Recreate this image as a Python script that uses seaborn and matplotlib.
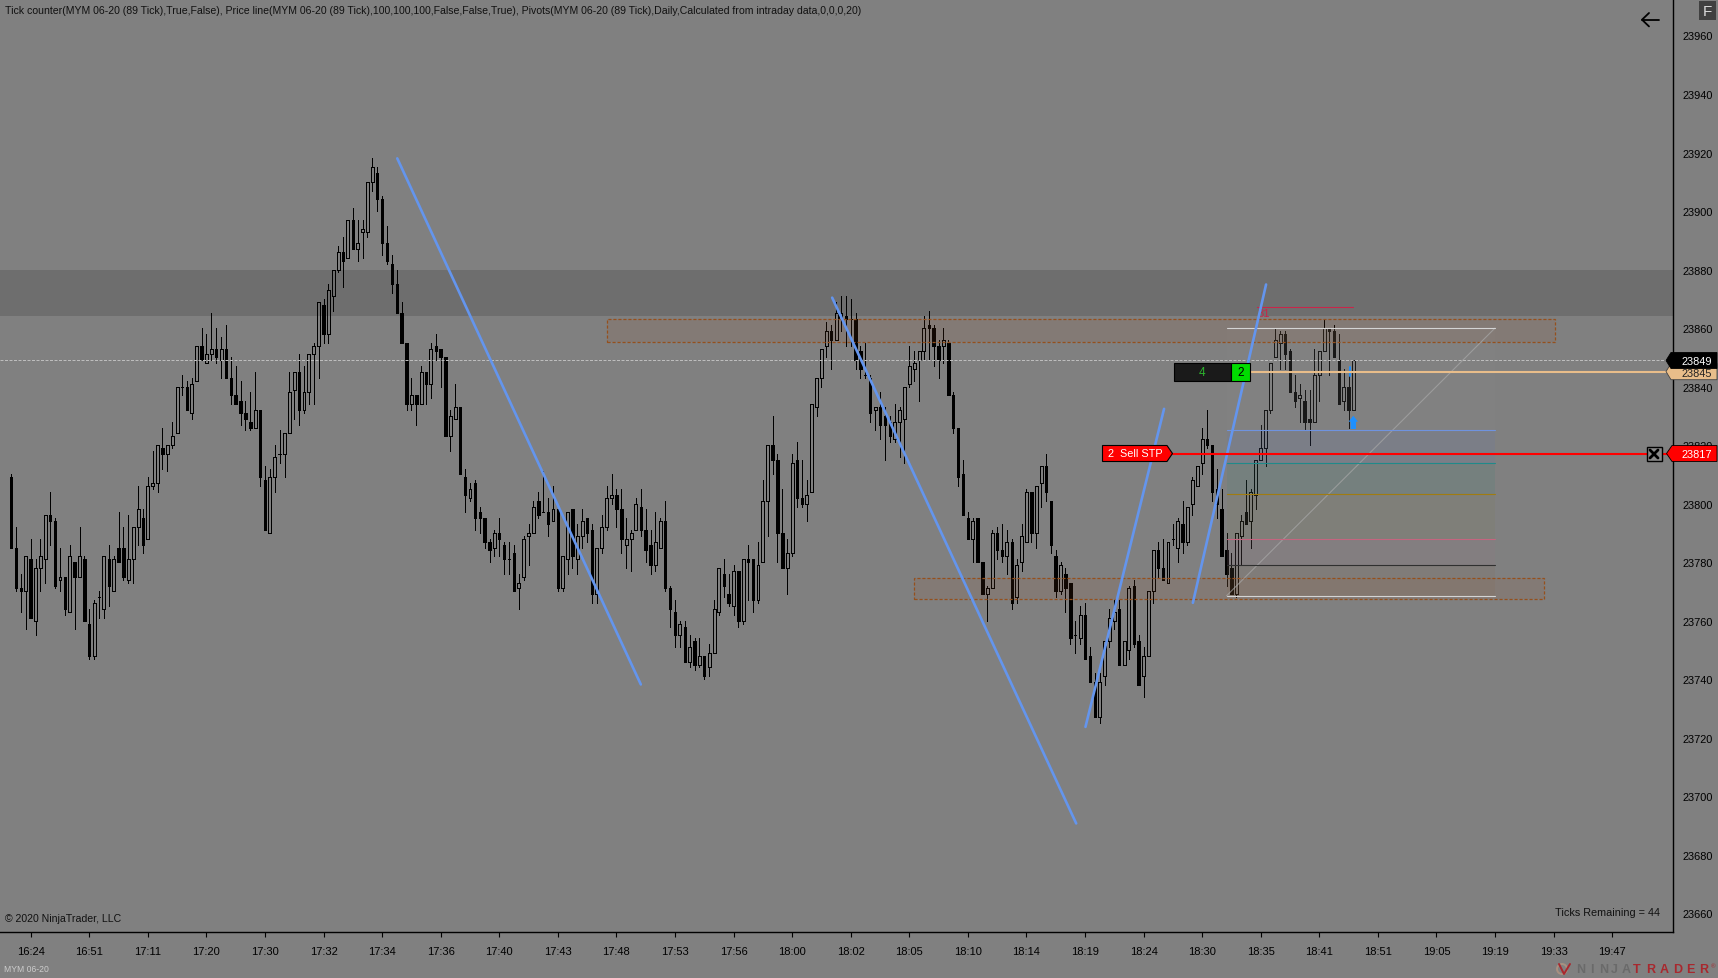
import numpy as np
import pandas as pd
import matplotlib.pyplot as plt
import seaborn as sns
from matplotlib.patches import Rectangle, Polygon, Circle
from matplotlib.transforms import Affine2D

W, H = 1718, 979
GRAY = "#808080"

price_base = 23000
# bar prices, minus price_base
opens = [
    809,785,771,770,781,760,778,781,796,794,774,775,763,780,775,781,759,748,768,764,
    781,770,785,785,774,781,792,795,788,806,807,819,817,820,824,840,840,831,842,854,
    848,851,853,849,853,843,837,835,831,828,826,832,808,790,809,817,817,824,839,845,
    832,838,851,854,868,858,871,880,886,884,897,887,893,893,910,913,904,889,882,875,
    865,855,834,837,834,845,841,854,853,850,823,829,833,809,802,807,797,795,787,785,
    790,786,781,783,771,775,789,790,801,797,797,794,798,771,781,798,781,789,795,791,
    769,785,792,802,803,798,786,788,791,799,791,786,779,785,794,771,763,755,758,746,
    753,745,748,744,749,763,776,769,765,777,760,781,781,767,780,801,820,815,790,778,
    783,815,802,800,804,833,843,854,859,856,863,864,863,863,852,844,843,832,833,830,
    828,822,828,829,841,846,849,852,861,860,854,854,855,837,826,810,795,788,795,780,
    769,771,790,784,782,787,768,780,787,804,790,807,813,801,782,770,776,773,755,754,
    762,748,739,727,741,753,760,764,745,750,772,753,741,748,770,784,778,773,788,785,
    793,787,800,806,814,822,820,805,798,784,778,769,789,797,794,803,815,819,832,850,
    855,858,852,838,836,835,829,828,844,852,860,859,849,835,840,832,
]
highs = [
    810,792,776,782,788,781,788,796,804,795,785,775,786,780,792,782,764,767,770,782,
    786,782,797,792,796,792,806,798,809,818,820,826,820,828,840,844,842,843,854,860,
    858,865,860,857,861,850,847,842,835,838,845,832,813,812,820,825,824,845,845,851,
    847,851,855,869,870,875,880,888,891,897,901,897,897,910,918,915,905,895,885,880,
    869,855,843,837,847,845,855,858,853,850,832,841,833,812,807,808,799,795,788,791,
    795,787,787,786,776,789,793,801,804,811,802,806,798,782,797,798,793,798,795,793,
    785,796,806,810,805,805,795,791,802,805,798,791,797,795,801,772,767,760,760,755,
    754,754,748,752,767,778,781,776,779,777,781,786,781,787,808,820,830,817,805,788,
    817,821,815,808,834,843,853,862,861,869,871,871,870,865,854,855,844,833,838,833,
    830,834,833,840,854,852,852,864,866,861,856,860,856,838,826,815,797,795,795,780,
    772,791,792,793,791,788,781,793,805,804,806,813,817,801,784,780,778,773,760,765,
    766,751,742,742,753,764,767,767,753,772,774,755,751,770,784,787,788,787,793,795,
    801,799,809,813,826,832,820,812,805,790,783,790,796,808,805,815,827,832,848,860,
    859,859,853,844,841,839,839,853,852,863,860,861,858,846,846,849,
]
lows = [
    785,770,763,757,761,755,770,773,786,771,770,762,763,757,775,760,747,747,761,761,
    765,770,780,774,773,773,786,783,788,805,804,812,811,819,824,837,832,829,842,849,
    848,849,848,843,843,834,834,827,825,825,826,806,791,790,804,814,809,824,829,827,
    831,834,834,843,855,855,866,879,874,884,887,883,884,891,907,900,885,882,872,865,
    855,832,832,827,834,834,836,849,840,823,818,829,810,797,801,791,790,785,780,782,
    782,776,776,770,764,774,779,790,795,797,789,794,770,770,776,778,776,785,787,766,
    766,783,791,800,792,783,778,777,791,789,780,776,777,785,770,758,751,751,746,744,
    743,744,740,741,749,762,768,765,762,758,759,767,763,766,780,789,810,780,778,769,
    782,799,799,794,804,830,840,850,846,856,859,854,854,846,843,843,828,825,822,815,
    821,821,816,814,840,842,835,849,849,847,843,848,837,824,806,796,788,780,780,769,
    760,771,781,780,776,764,766,777,787,787,785,799,801,783,768,769,763,752,749,752,
    747,739,727,725,738,751,757,745,745,747,751,738,734,748,766,775,774,773,786,780,
    783,786,796,806,810,819,801,795,782,772,769,768,779,793,785,798,815,813,831,850,
    846,846,838,833,828,825,820,828,835,852,844,850,834,832,826,832,
]
closes = [
    785,771,770,782,761,778,782,796,794,772,775,764,782,775,782,760,748,766,768,782,
    772,781,780,775,781,792,798,786,806,807,820,817,820,823,840,840,832,841,854,849,
    851,853,850,853,843,837,834,831,829,826,832,809,791,809,816,817,824,838,845,832,
    838,851,854,869,858,873,880,886,883,897,887,889,894,910,915,904,889,883,875,865,
    855,834,837,834,845,841,853,852,850,823,830,833,810,803,805,795,795,787,784,790,
    788,781,781,770,773,788,790,799,796,797,793,798,771,782,797,782,789,794,790,769,
    785,792,802,803,798,788,788,790,800,791,784,779,787,794,771,764,755,759,746,751,
    745,748,741,749,764,778,772,766,777,760,781,780,767,779,801,820,815,790,778,783,
    814,802,800,803,834,843,853,859,856,865,865,863,863,849,846,844,831,833,827,827,
    823,828,832,840,847,848,852,860,860,854,849,856,837,826,809,796,788,794,780,769,
    771,790,784,782,787,766,779,789,804,790,806,813,804,786,770,779,771,754,755,762,
    747,739,727,739,753,761,763,745,753,771,752,738,748,770,784,778,774,787,788,794,
    787,799,808,813,822,820,804,800,782,776,769,790,794,793,804,815,819,832,848,856,
    858,851,838,835,837,828,828,844,852,860,859,850,834,840,832,849,
]

tick_labels = ["16:24","16:51","17:11","17:20","17:30","17:32","17:34","17:36","17:40","17:43",
               "17:48","17:53","17:56","18:00","18:02","18:05","18:10","18:14","18:19","18:24",
               "18:30","18:35","18:41","18:51","19:05","19:19","19:33","19:47"]
tick_bars = [4 + 12 * k for k in range(len(tick_labels))]
y_ticks = list(range(23660, 23961, 20))

# drawn trend lines: bar / price at both ends
trend_bar_a = [79.1, 168.2, 220.1, 242.1]
trend_price_a = [23918, 23870.4, 23723.7, 23766.1]
trend_bar_b = [129.0, 218.2, 236.2, 257.1]
trend_price_b = [23738.2, 23690.7, 23832.4, 23874.9]

band_low, band_high = 23864, 23880
zone_left = [122, 185]
zone_right = [316.3, 314.1]
zone_low = [23855.3, 23767.5]
zone_high = [23863.2, 23774.7]

# fibonacci style box
fib_left, fib_right = 249, 304
fib_prices = [23860, 23825, 23814, 23803.4, 23788, 23779, 23768.5]
fib_colors = ["#d4d4d4", "#6f93e0", "#1f8a8a", "#a07c10", "#c4657f", "#303030", "#d4d4d4"]
fib_fills = ["#8b8b8b", "#697aac", "#48857a", "#7d7d5a", "#967580", "#806f5e"]

last_price = 23849
pivot_price = 23845
stop_price = 23817
swing_price = 23867.3
swing_left, swing_right = 255.2, 275
axis_title = ("Tick counter(MYM 06-20 (89 Tick),True,False), Price line(MYM 06-20 (89 Tick),100,100,100,"
              "False,False,True), Pivots(MYM 06-20 (89 Tick),Daily,Calculated from intraday data,0,0,0,20)")

sns.set_theme(style="white", rc={"axes.facecolor": GRAY, "figure.facecolor": GRAY,
                                 "axes.edgecolor": "black", "axes.linewidth": 1.0,
                                 "xtick.bottom": True, "ytick.right": True, "ytick.left": False})
plt.rcParams["font.family"] = ["Liberation Sans", "DejaVu Sans"]

fig = plt.figure(figsize=(W / 100, H / 100), dpi=100)
ax = fig.add_axes([0, 1 - 933 / H, 1673 / W, 933 / H])
# screen pixels, origin top left, for the platform widgets
px = Affine2D().scale(1 / W, -1 / H).translate(0, 1) + fig.transFigure

o = np.array(opens) + price_base
h = np.array(highs) + price_base
l = np.array(lows) + price_base
c = np.array(closes) + price_base
bars = np.arange(len(o))
top = np.maximum(o, c)
bot = np.minimum(o, c)
up = c > o

wicks = pd.DataFrame({
    "bar": np.repeat(bars, 4),
    "price": np.column_stack([h, top, bot, l]).ravel(),
    "seg": np.column_stack([bars * 2, bars * 2, bars * 2 + 1, bars * 2 + 1]).ravel(),
})

ax.axhspan(band_low, band_high, color="#6e6e6e", lw=0, zorder=0.5)

sns.lineplot(data=wicks, x="bar", y="price", units="seg", estimator=None, sort=False,
             color="black", lw=0.72, antialiased=False, legend=False, ax=ax, zorder=2)
ax.bar(bars[~up], (top - bot)[~up], bottom=bot[~up], width=0.5, color="black",
       edgecolor="black", lw=0.72, antialiased=False, zorder=2)
ax.bar(bars[up], (top - bot)[up], bottom=bot[up], width=0.6, facecolor="none",
       edgecolor="black", lw=0.72, antialiased=False, zorder=2)

# zones sit over the candles
for x0, x1, y0, y1 in zip(zone_left, zone_right, zone_low, zone_high):
    ax.add_patch(Rectangle((x0, y0), x1 - x0, y1 - y0, facecolor="#a0501e", alpha=0.11, lw=0, zorder=3))
    ax.add_patch(Rectangle((x0, y0), x1 - x0, y1 - y0, facecolor="none", edgecolor="#95501c",
                           lw=0.9, ls=(0, (2.5, 1.5)), zorder=3))

fib_x = [fib_left, fib_right]
for k in range(len(fib_fills)):
    ax.fill_between(fib_x, fib_prices[k + 1], fib_prices[k], color=fib_fills[k], alpha=0.18, lw=0, zorder=2.5)
for p, col in zip(fib_prices, fib_colors):
    sns.lineplot(x=fib_x, y=[p, p], color=col, lw=0.8, ax=ax, zorder=3.2)
sns.lineplot(x=fib_x, y=[fib_prices[-1], fib_prices[0]], color="#a8a8a8", lw=0.8, alpha=0.7, ax=ax, zorder=3.1)

sns.lineplot(x=[swing_left, swing_right], y=[swing_price, swing_price], color="#c8264a", lw=0.8, ax=ax, zorder=3.2)
ax.text(255.3, 23865, "31", color="#c8264a", fontsize=8, ha="left", va="center", zorder=3.2)

for xa, ya, xb, yb in zip(trend_bar_a, trend_price_a, trend_bar_b, trend_price_b):
    sns.lineplot(x=[xa, xb], y=[ya, yb], color="#6495ed", lw=1.9, sort=False, ax=ax, zorder=4)

ax.axhline(last_price, color="#bdbdbd", lw=0.72, ls=(0, (3, 1.5)), zorder=3)
ax.plot([1250 / 4.881 - 2.29, 340.47], [pivot_price] * 2, color="#e8bd8a", lw=1.5, zorder=4)
ax.plot([1172 / 4.881 - 2.29, 1667 / 4.881 - 2.29], [stop_price] * 2, color="#ff0000", lw=1.5, zorder=4)
ax.plot([274.3, 274.3], [23843.6, 23846.7], color="#1e90ff", lw=1.4, zorder=3)

ax.set_xlim(-2.29, 340.47)
ax.set_ylim(23653.6, 23972.47)
ax.set_xticks(tick_bars, tick_labels)
ax.set_yticks(y_ticks, [str(v) for v in y_ticks])
ax.yaxis.tick_right()
ax.tick_params(axis="x", length=3.6, width=0.8, pad=6.5, labelsize=8, colors="black")
ax.tick_params(axis="y", length=3.6, width=0.8, pad=3.0, labelsize=7.9, colors="black")
ax.set_xlabel("")
ax.set_ylabel("")
sns.despine(ax=ax, top=True, left=True, right=False, bottom=False)


def box(x0, y0, x1, y1, **kw):
    ax.add_patch(Rectangle((x0, y0), x1 - x0, y1 - y0, transform=px, clip_on=False, **kw))


def poly(pts, **kw):
    ax.add_patch(Polygon(pts, closed=True, transform=px, clip_on=False, **kw))


def label(x, y, s, size=7.7, color="black", ha="left", **kw):
    ax.text(x, y, s, transform=px, fontsize=size, color=color, ha=ha, va="center", clip_on=False, zorder=12, **kw)


# entry arrow under the last bar
poly([(1353.3, 416.7), (1358, 422.7), (1356, 422.7), (1356, 430), (1350.6, 430), (1350.6, 422.7), (1348.6, 422.7)],
     facecolor="#1e90ff", lw=0, zorder=5)

# position widget
box(1173.5, 363.5, 1231, 382, facecolor="#1a1a1a", edgecolor="black", lw=0.8, zorder=9)
box(1231, 363.5, 1250, 382, facecolor="#00dc00", edgecolor="black", lw=0.8, zorder=9)
label(1202, 373, "4", size=8.5, color="#2db32d", ha="center")
label(1240.5, 373, "2", size=8.5, ha="center")

# order tag
poly([(1102.5, 446.5), (1167, 446.5), (1172.5, 454.5), (1167, 462.5), (1102.5, 462.5)],
     facecolor="#ff0000", edgecolor="black", lw=0.8, zorder=9)
label(1108, 454.5, "2  Sell STP", size=7.8, color="white")

# axis price tags
poly([(1666, 372.5), (1671, 364.5), (1717, 364.5), (1717, 380.7), (1671, 380.7)],
     facecolor="#e8bd8a", edgecolor="#444444", lw=0.6, zorder=9)
label(1682, 374, "23845", size=7.9, color="#222222")
poly([(1666, 361.5), (1671, 353.5), (1717, 353.5), (1717, 369.5), (1671, 369.5)],
     facecolor="black", edgecolor="black", lw=0.6, zorder=10)
label(1682, 361.7, "23849", size=7.9, color="white")
poly([(1666.5, 454.5), (1672, 446.5), (1717, 446.5), (1717, 462.5), (1672, 462.5)],
     facecolor="#ff0000", edgecolor="black", lw=0.6, zorder=10)
label(1682, 454.7, "23817", size=7.9, color="white")

# close order button
box(1646.5, 447.5, 1661.5, 462, facecolor="#8a8a8a", edgecolor="black", lw=1.0, zorder=9)
ax.plot([1650, 1658], [451, 459], color="black", lw=2.0, transform=px, clip_on=False, zorder=10)
ax.plot([1650, 1658], [459, 451], color="black", lw=2.0, transform=px, clip_on=False, zorder=10)

# back arrow and F button
ax.plot([1642, 1658.5], [20.7, 20.7], color="black", lw=1.3, transform=px, clip_on=False, zorder=10)
ax.plot([1649, 1642, 1649], [14, 20.7, 27.4], color="black", lw=1.3, transform=px, clip_on=False, zorder=10)
box(1699, 2, 1716, 21, facecolor="#404040", lw=0, zorder=9)
label(1707.5, 11.5, "F", size=11, color="#d8d8d8", ha="center")

label(5, 10.5, axis_title, size=7.58, color="#111111")
label(5, 919, "\u00a9 2020 NinjaTrader, LLC", size=7.6, color="#111111")
label(4, 969.5, "MYM 06-20", size=6.2, color="#cccccc")
label(1555, 913, "Ticks Remaining = 44", size=7.8, color="#111111")

# logo
ax.add_patch(Circle((1562, 970), 5, transform=px, facecolor="none", edgecolor="#a89080", lw=1.4, clip_on=False, zorder=9))
ax.plot([1559, 1564, 1570], [965, 975, 965], color="#a8282e", lw=1.4, transform=px, clip_on=False, zorder=10)
for k, ch in enumerate("NINJA"):
    label(1581 + k * 11.2, 970, ch, size=9, color="#6a6a6a", ha="center", fontweight="bold")
for k, ch in enumerate("TRADER"):
    label(1637 + k * 13.4, 970, ch, size=9, color="#a8282e", ha="center", fontweight="bold")
label(1711, 967, "\u00ae", size=4.5, color="#a8282e")

fig.savefig("out.png", dpi=100)
